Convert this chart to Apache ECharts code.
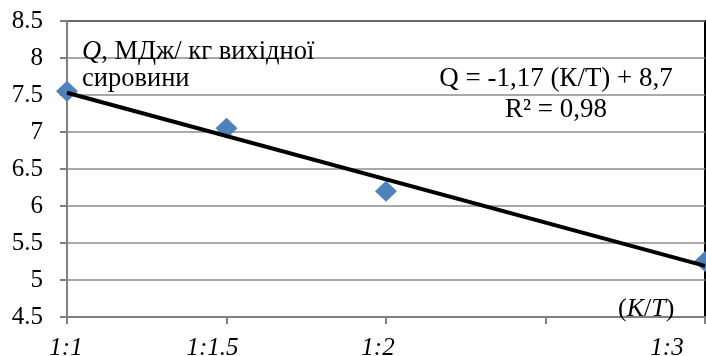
<!DOCTYPE html>
<html>
<head>
<meta charset="utf-8">
<script src="https://cdn.jsdelivr.net/npm/echarts@6/dist/echarts.min.js"></script>
<style>html,body{margin:0;padding:0;background:#fff;}#c{width:706px;height:356px;}</style>
</head>
<body>
<div id="c"></div>
<script>
// Data
const xValues = [1, 1.5, 2, 3];
const qValues = [7.55, 7.05, 6.2, 5.25];
const trendX = [1, 3];
const trendY = [7.53, 5.19];
const xTickValues = [1, 1.5, 2, 2.5, 3];
const xTickLabels = ['1:1', '1:1.5', '1:2', '', '1:3'];
const yTickMin = 4.5, yTickMax = 8.5, yTickStep = 0.5;
const yLabelText = ['Q', ', МДж/ кг вихідної', 'сировини'];
const eqLines = ['Q = -1,17 (К/Т) + 8,7', 'R² = 0,98'];

// styling
const labelPad = [2, 28, 16, 0, 76];
const font = 'Liberation Serif';
const rich = {};
xTickValues.forEach((v, i) => {
  rich['s' + i] = { fontFamily: font, fontSize: 25, fontStyle: 'italic', color: '#000', padding: [0, labelPad[i], 0, 0] };
});

const chart = echarts.init(document.getElementById('c'));
chart.setOption({
  animation: false,
  backgroundColor: '#fff',
  textStyle: { fontFamily: font },
  grid: { left: 67, right: 1, top: 21, bottom: 39, outerBoundsMode: 'none', containLabel: false, show: true, borderColor: '#000', borderWidth: 2, backgroundColor: 'transparent' },
  xAxis: {
    type: 'value', min: 1, max: 3, interval: 0.5,
    axisLine: { show: true, onZero: false, lineStyle: { color: '#808080', width: 2 } },
    axisTick: { show: true, length: 7, lineStyle: { color: '#808080', width: 2 } },
    splitLine: { show: false },
    axisLabel: {
      margin: 19, fontFamily: font, fontSize: 25, fontStyle: 'italic', color: '#000',
      formatter: function (v) {
        const i = xTickValues.findIndex(t => Math.abs(t - v) < 1e-9);
        if (i < 0 || !xTickLabels[i]) return '';
        return '{s' + i + '|' + xTickLabels[i] + '}';
      },
      rich: rich
    }
  },
  yAxis: {
    type: 'value', min: yTickMin, max: yTickMax, interval: yTickStep,
    axisLine: { show: true, lineStyle: { color: '#808080', width: 2 } },
    axisTick: { show: true, length: 7, lineStyle: { color: '#808080', width: 2 } },
    splitLine: { show: true, lineStyle: { color: '#8c8c8c', width: 1.5 } },
    axisLabel: { margin: 24, fontFamily: font, fontSize: 25, color: '#000' }
  },
  series: [
    {
      type: 'scatter', data: xValues.map((x, i) => [x, qValues[i]]),
      symbol: 'diamond', symbolSize: [22, 21], clip: false,
      itemStyle: { color: '#4F81BD', opacity: 1 }, z: 2
    },
    {
      type: 'line', data: trendX.map((x, i) => [x, trendY[i]]),
      symbol: 'none', lineStyle: { color: '#000', width: 4 }, z: 3
    }
  ],
  graphic: [
    {
      type: 'text', left: 82, top: 39, z: 10,
      style: {
        text: '{i|' + yLabelText[0] + '}{n|' + yLabelText[1] + '}\n{n|' + yLabelText[2] + '}',
        fontFamily: font, fontSize: 26.5, lineHeight: 27,
        rich: {
          i: { fontFamily: font, fontSize: 26.5, fontStyle: 'italic', fill: '#000', lineHeight: 27 },
          n: { fontFamily: font, fontSize: 26.5, fill: '#000', lineHeight: 27 }
        }
      }
    },
    {
      type: 'text', x: 556, y: 63, z: 10,
      style: {
        text: eqLines.join('\n'), align: 'center', verticalAlign: 'top',
        fontFamily: font, fontSize: 27, lineHeight: 31, fill: '#000'
      }
    },
    {
      type: 'text', x: 618, y: 309, z: 10,
      style: {
        text: '{n|(}{i|K}{n|/}{i|T}{n|)}', verticalAlign: 'middle',
        fontFamily: font, fontSize: 26,
        rich: {
          i: { fontFamily: font, fontSize: 26, fontStyle: 'italic', fill: '#000' },
          n: { fontFamily: font, fontSize: 26, fill: '#000' }
        }
      }
    }
  ]
});
</script>
</body>
</html>
